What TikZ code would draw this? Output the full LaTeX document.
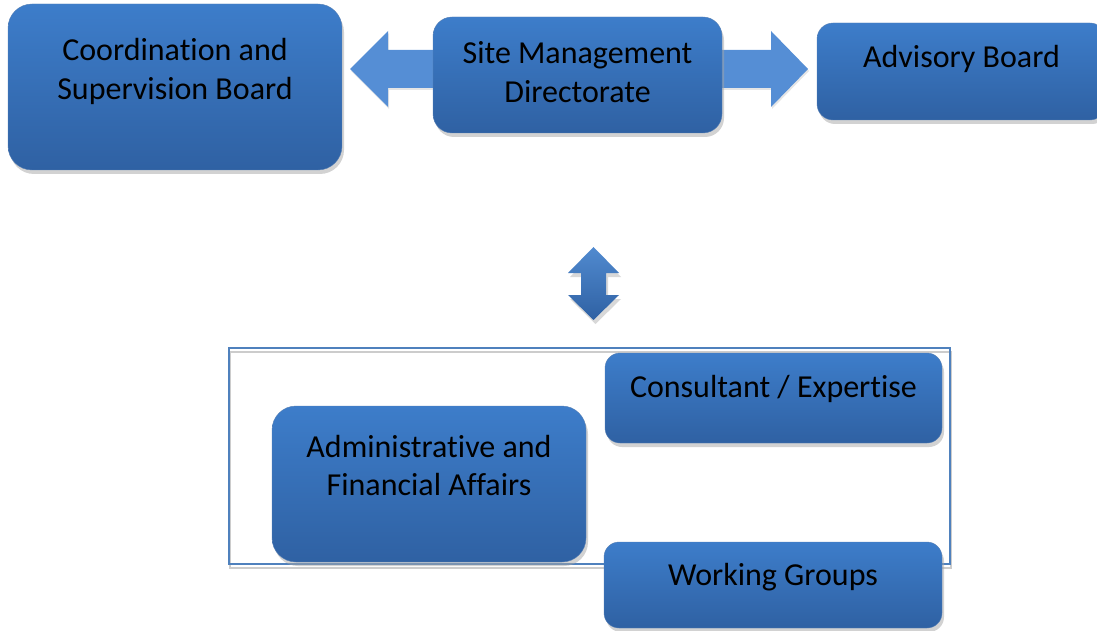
\documentclass[tikz,border=0pt]{standalone}
\usepackage{fontspec}
\setmainfont{Carlito}[Ligatures=NoCommon]
\usepackage{tikz}
\usetikzlibrary{shadows,positioning}
\definecolor{BoxTop}{RGB}{61,125,202}
\definecolor{BoxBottom}{RGB}{47,97,163}
\definecolor{ArrowBlue}{RGB}{85,142,213}
\definecolor{FrameBlue}{RGB}{79,129,189}
\tikzset{
  box/.style n args={3}{
    shape=rectangle,
    minimum width=#1,
    minimum height=#2,
    rounded corners=#3,
    inner sep=0pt,
    draw=BoxBottom!80,
    thin,
    top color=BoxTop,
    bottom color=BoxBottom,
    drop shadow={shadow xshift=2pt, shadow yshift=-4pt, fill=black!35}
  },
  boxtext/.style={
    anchor=center,
    align=center,
    text=black,
    font=\fontsize{32}{38.5}\selectfont
  },
  blockarrow/.style={
    fill=ArrowBlue,
    drop shadow={shadow xshift=1pt, shadow yshift=-2pt, fill=black!20}
  },
  linkarrow/.style={
    top color=BoxTop!90!white,
    bottom color=BoxBottom,
    drop shadow={shadow xshift=2pt, shadow yshift=-4pt, fill=black!30}
  },
  group frame/.style={
    shape=rectangle,
    draw=FrameBlue,
    line width=1.2pt,
    inner sep=0pt,
    drop shadow={shadow xshift=1pt, shadow yshift=-4pt, fill=none,
      draw=black!40, line width=1.5pt}
  }
}

\begin{document}
\begin{tikzpicture}[x=1pt,y=-1pt]
  \useasboundingbox (0,0) rectangle (1097,631);

  % group frame behind the lower boxes
  \node [group frame, minimum width=721pt, minimum height=216pt] (grp) at (589.5,456) {};

  % block arrows from the directorate
  \coordinate (smdw) at (438,75);
  \coordinate (smde) at (717,75);
  \path [blockarrow] (smdw) ++(0,-25) -- ++(-50,0) -- ++(0,-19) -- ++(-38,38)
    -- ++(38,38) -- ++(0,-19) -- ++(50,0) -- cycle;
  \path [blockarrow] (smde) ++(0,-25) -- ++(54,0) -- ++(0,-19) -- ++(37,38)
    -- ++(-37,38) -- ++(0,-19) -- ++(-54,0) -- cycle;

  % top row
  \node [box={334pt}{166pt}{24pt},
    label={[boxtext, yshift=-67.5pt]north:Coordination and\\Supervision Board}]
    (csb) at (175,87) {};
  \node [box={289pt}{116pt}{19pt},
    label={[boxtext, yshift=-55.5pt]north:Site Management\\Directorate}]
    (smd) at (577.5,75) {};
  \node [box={289pt}{97pt}{16pt},
    label={[boxtext, yshift=-36pt]north:Advisory Board}]
    (adv) at (961.5,71.5) {};

  % link between directorate and the units
  \coordinate (link) at (593.5,283.5);
  \path [linkarrow] (link) ++(0,-36.5) -- ++(25.5,26) -- ++(-13,0) -- ++(0,22)
    -- ++(13,0) -- ++(-25.5,25) -- ++(-25.5,-25) -- ++(13,0) -- ++(0,-22)
    -- ++(-13,0) -- cycle;

  % units
  \node [box={314pt}{156pt}{24pt},
    label={[boxtext, yshift=-59.5pt]north:Administrative and\\Financial Affairs}]
    (afa) at (429,484) {};
  \node [box={337pt}{90pt}{15pt},
    label={[boxtext, yshift=-36pt]north:Consultant / Expertise}]
    (cex) at (773.5,398) {};
  \node [box={338pt}{86pt}{15pt},
    label={[boxtext, yshift=-35.5pt]north:Working Groups}]
    (wg) at (773,585) {};
\end{tikzpicture}
\end{document}
